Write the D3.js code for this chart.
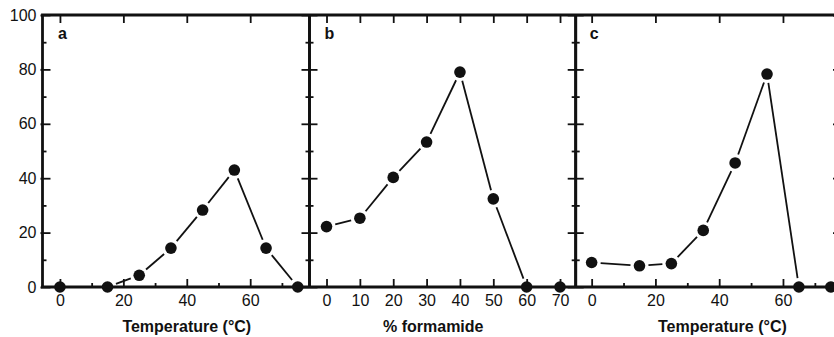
<!DOCTYPE html>
<html>
<head>
<meta charset="utf-8">
<script src="https://cdn.jsdelivr.net/npm/d3@7"></script>
<style>
  body { margin: 0; background: #fff; }
  text { font-family: "Liberation Sans", Arial, Helvetica, sans-serif; fill: #111; }
</style>
</head>
<body>
<div id="chart"></div>
<script>
// data
const tempA = [0, 15, 25, 35, 45, 55, 65, 75];
const valuesA = [0, 0, 4.3, 14.3, 28.3, 43, 14.3, 0];

const formamideB = [0, 10, 20, 30, 40, 50, 60, 70];
const valuesB = [22.2, 25.3, 40.3, 53.3, 79, 32.4, 0, 0];

const tempC = [0, 15, 25, 35, 45, 55, 65, 75];
const valuesC = [9, 7.8, 8.6, 20.8, 45.6, 78.3, 0, 0];

const yTicks = [0, 20, 40, 60, 80, 100];
const yMinor = [10, 30, 50, 70, 90];
const tempTicks = [0, 20, 40, 60];
const tempMinor = [10, 30, 50, 70];
const formTicks = [0, 10, 20, 30, 40, 50, 60, 70];

const width = 834, height = 337;
const yTop = 15, yBottom = 287;

const panels = [
  {label: 'a', xs: tempA, ys: valuesA, domain: [-5.5, 78.7], range: [42.5, 309.5],
   major: tempTicks, minor: tempMinor, title: 'Temperature (\u00B0C)', titleAt: 40},
  {label: 'b', xs: formamideB, ys: valuesB, domain: [-5.1, 74.7], range: [309.5, 575.7],
   major: formTicks, minor: [], title: '% formamide', titleAt: 32},
  {label: 'c', xs: tempC, ys: valuesC, domain: [-5.0, 78.2], range: [575.7, 841],
   major: tempTicks, minor: tempMinor, title: 'Temperature (\u00B0C)', titleAt: 41}
];

const svg = d3.select('#chart').append('svg')
  .attr('width', width)
  .attr('height', height);

const y = d3.scaleLinear().domain([0, 100]).range([yBottom, yTop]);

// y tick labels, only on the first panel
const yLab = svg.append('g')
  .attr('transform', 'translate(' + panels[0].range[0] + ',0)')
  .call(d3.axisLeft(y).tickValues(yTicks).tickSize(0).tickPadding(6));
yLab.select('.domain').remove();
yLab.selectAll('text').attr('font-size', '16px').attr('fill', '#111')
  .attr('font-family', '"Liberation Sans", Arial, sans-serif');
// small outward stub of the major ticks on the far left
svg.append('g')
  .attr('transform', 'translate(' + panels[0].range[0] + ',0)')
  .call(d3.axisLeft(y).tickValues(yTicks).tickSize(2).tickFormat(''))
  .call(g => g.select('.domain').remove())
  .selectAll('line').attr('stroke', '#111').attr('stroke-width', 2);

function tickGroup(g, axis) {
  g.call(axis);
  g.select('.domain').remove();
  g.selectAll('line').attr('stroke', '#111').attr('stroke-width', 1.8);
}

panels.forEach(function(p) {
  const x = d3.scaleLinear().domain(p.domain).range(p.range);
  const g = svg.append('g');

  // inward ticks on left and right frame
  tickGroup(g.append('g').attr('transform', 'translate(' + p.range[0] + ',0)'),
    d3.axisRight(y).tickValues(yTicks).tickSize(8).tickFormat(''));
  tickGroup(g.append('g').attr('transform', 'translate(' + p.range[0] + ',0)'),
    d3.axisRight(y).tickValues(yMinor).tickSize(4).tickFormat(''));
  tickGroup(g.append('g').attr('transform', 'translate(' + p.range[1] + ',0)'),
    d3.axisLeft(y).tickValues(yTicks).tickSize(8).tickFormat(''));
  tickGroup(g.append('g').attr('transform', 'translate(' + p.range[1] + ',0)'),
    d3.axisLeft(y).tickValues(yMinor).tickSize(4).tickFormat(''));

  // top ticks (down) and bottom ticks (up)
  tickGroup(g.append('g').attr('transform', 'translate(0,' + yTop + ')'),
    d3.axisBottom(x).tickValues(p.major).tickSize(8).tickFormat(''));
  tickGroup(g.append('g').attr('transform', 'translate(0,' + yBottom + ')'),
    d3.axisTop(x).tickValues(p.major).tickSize(8).tickFormat(''));
  if (p.minor.length) {
    tickGroup(g.append('g').attr('transform', 'translate(0,' + yBottom + ')'),
      d3.axisTop(x).tickValues(p.minor).tickSize(4).tickFormat(''));
  }

  // x tick labels
  const xl = g.append('g').attr('transform', 'translate(0,' + yBottom + ')')
    .call(d3.axisBottom(x).tickValues(p.major).tickSize(0).tickPadding(8));
  xl.select('.domain').remove();
  xl.selectAll('text').attr('font-size', '16px').attr('fill', '#111')
    .attr('font-family', '"Liberation Sans", Arial, sans-serif');

  // axis title
  g.append('text')
    .attr('x', x(p.titleAt))
    .attr('y', 332)
    .attr('text-anchor', 'middle')
    .attr('font-size', '16px')
    .attr('font-weight', 'bold')
    .text(p.title);

  // panel letter
  g.append('text')
    .attr('x', x(0) - 2)
    .attr('y', 39)
    .attr('font-size', '16px')
    .attr('font-weight', 'bold')
    .text(p.label);

  // connecting segments, broken near each marker
  const pts = p.xs.map((v, i) => [x(v), y(p.ys[i])]);
  const gap = 9;
  for (let i = 0; i < pts.length - 1; i++) {
    const [x1, y1] = pts[i], [x2, y2] = pts[i + 1];
    const len = Math.hypot(x2 - x1, y2 - y1);
    if (len <= 2 * gap) continue;
    const ux = (x2 - x1) / len, uy = (y2 - y1) / len;
    g.append('line')
      .attr('x1', x1 + ux * gap).attr('y1', y1 + uy * gap)
      .attr('x2', x2 - ux * gap).attr('y2', y2 - uy * gap)
      .attr('stroke', '#111')
      .attr('stroke-width', 1.8);
  }

  // frame verticals
  g.append('line')
    .attr('x1', p.range[0]).attr('x2', p.range[0])
    .attr('y1', yTop).attr('y2', yBottom)
    .attr('stroke', '#111').attr('stroke-width', 2.8);
  g.append('line')
    .attr('x1', p.range[1]).attr('x2', p.range[1])
    .attr('y1', yTop).attr('y2', yBottom)
    .attr('stroke', '#111').attr('stroke-width', 2.8);

  g.selectAll('circle')
    .data(pts)
    .enter()
    .append('circle')
    .attr('cx', d => d[0])
    .attr('cy', d => d[1])
    .attr('r', 5.8)
    .attr('fill', '#111');
});

// top and bottom frame lines
svg.append('line')
  .attr('x1', panels[0].range[0] - 1.4).attr('x2', width)
  .attr('y1', yTop).attr('y2', yTop)
  .attr('stroke', '#111').attr('stroke-width', 3);
svg.append('line')
  .attr('x1', panels[0].range[0] - 1.4).attr('x2', width)
  .attr('y1', yBottom).attr('y2', yBottom)
  .attr('stroke', '#111').attr('stroke-width', 2.8);
</script>
</body>
</html>
